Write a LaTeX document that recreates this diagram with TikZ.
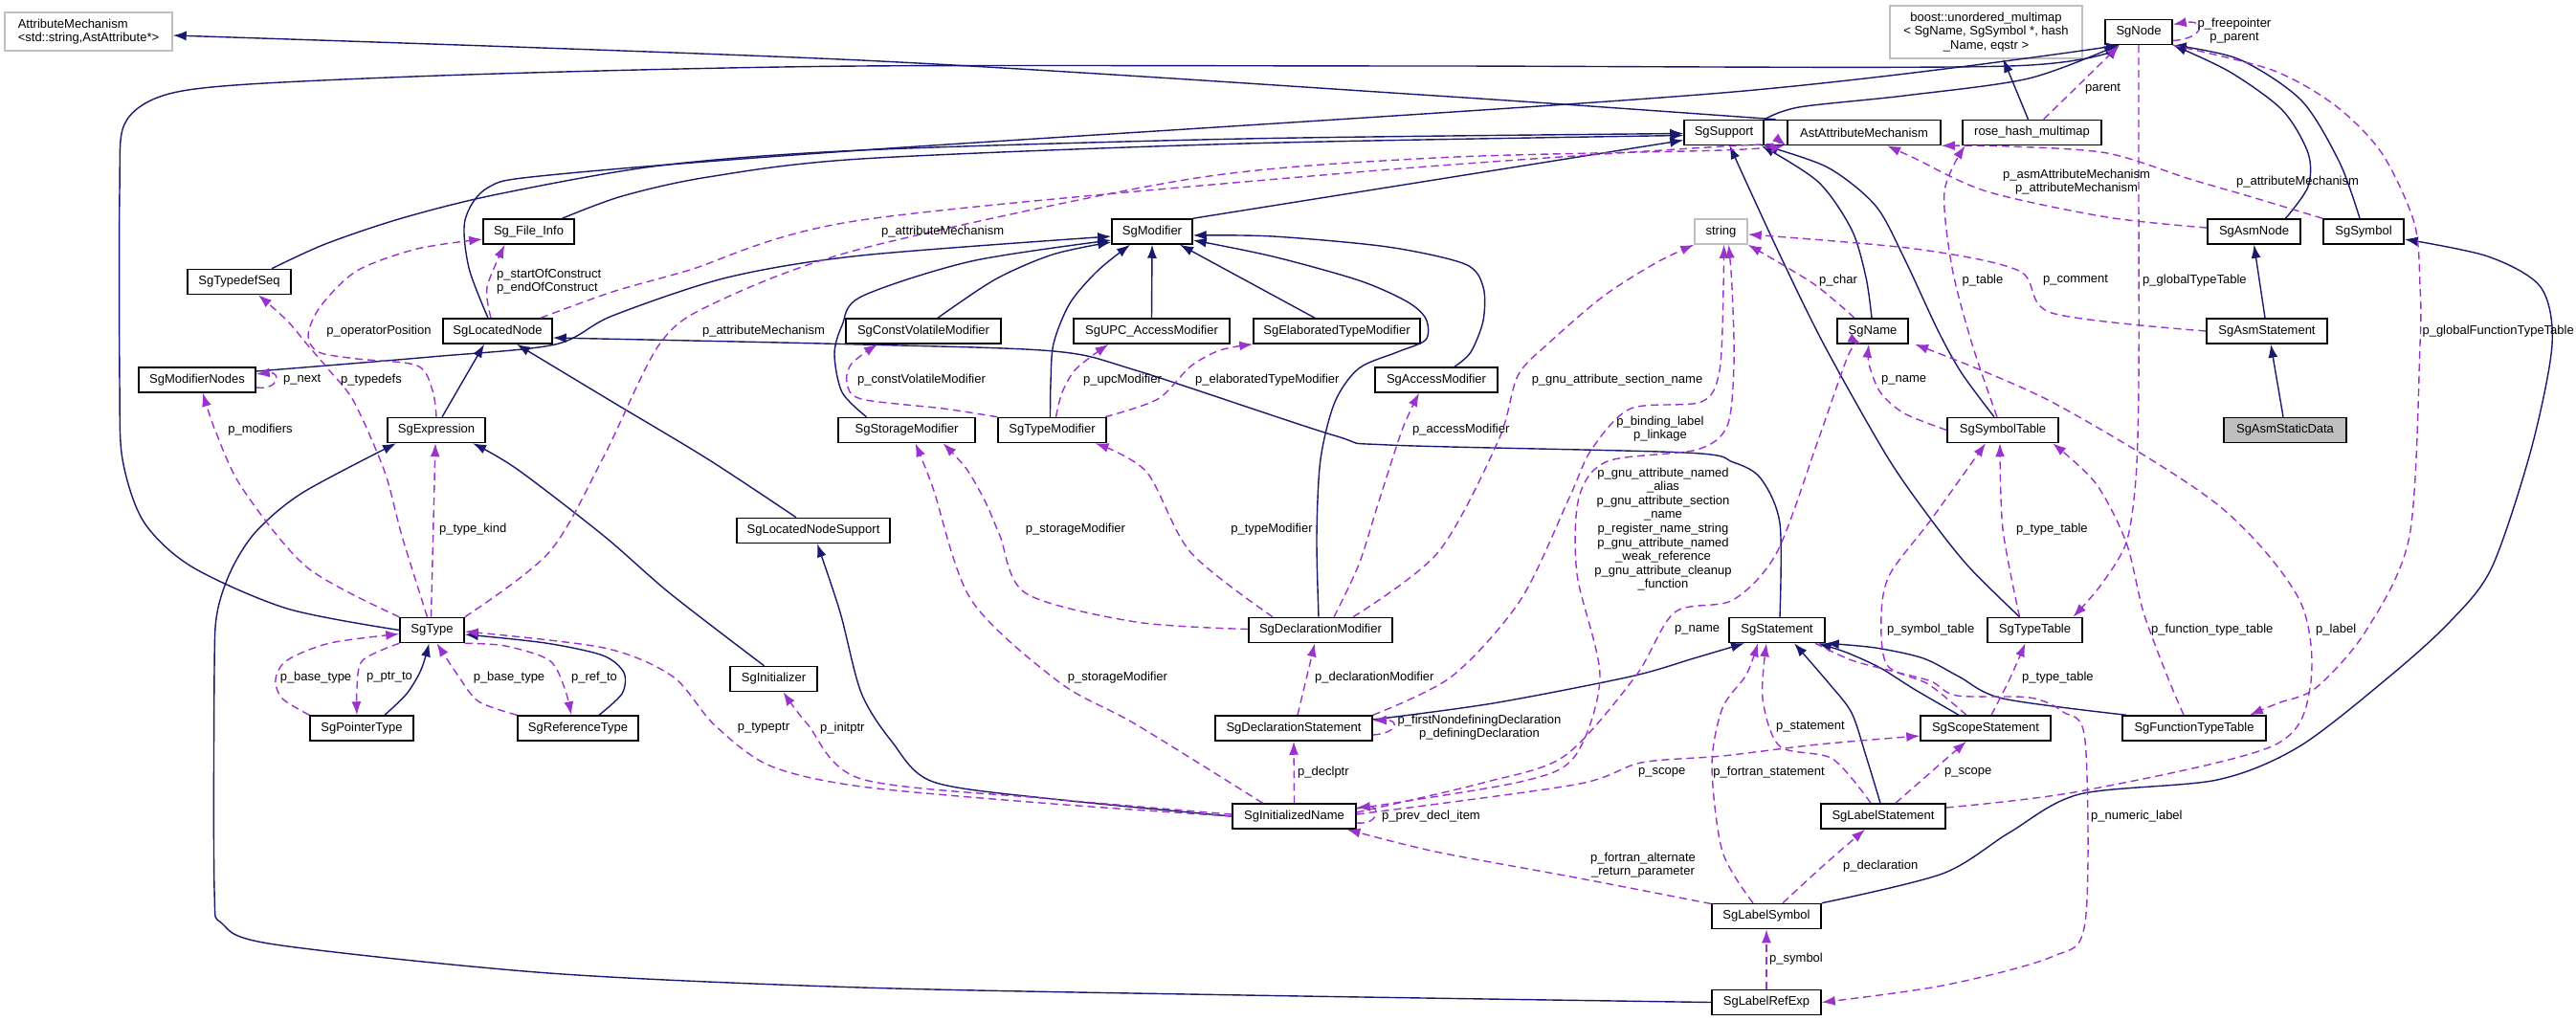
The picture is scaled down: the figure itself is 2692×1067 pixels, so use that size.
\documentclass[tikz,border=0pt]{standalone}
\usepackage{fontspec}
\setmainfont{Liberation Sans}
\usetikzlibrary{arrows.meta}
\definecolor{navy}{RGB}{25,25,112}
\definecolor{orchid}{RGB}{154,50,205}
\definecolor{lgray}{RGB}{191,191,191}
\newcommand{\lbfont}{\fontsize{13}{14.6}\selectfont}
\tikzset{
 box/.style={draw=black, line width=1.5pt, fill=white, minimum height=26pt, inner sep=0pt, font=\lbfont},
 gbox/.style={box, draw=lgray},
 inh/.style={draw=navy, line width=1.4pt, -{Latex[length=14pt,width=10pt]}},
 col/.style={draw=orchid, line width=1.4pt, dash pattern=on 8pt off 5pt, -{Latex[length=14pt,width=10pt]}},
 lb/.style={font=\lbfont, inner sep=0pt, align=center},
}
\begin{document}
\begin{tikzpicture}[x=1pt,y=-1pt]
\useasboundingbox (0,0) rectangle (2692,1067);
\fill[white] (0,0) rectangle (2692,1067);
% ---------------- nodes
\node[gbox, minimum width=175pt, minimum height=40pt, align=left] (AttrMech) at (92.5,33) {AttributeMechanism\\<std::string,AstAttribute*>};
\node[gbox, minimum width=201pt, minimum height=55pt, align=center] (boost) at (2075.5,33.5) {boost::unordered\_multimap\\< SgName, SgSymbol *, hash\\\_Name, eqstr >};
\node[box, minimum width=70pt] (SgNode) at (2235,33.5) {SgNode};
\node[box, minimum width=83pt] (SgSupport) at (1801.5,138.5) {SgSupport};
\node[box, minimum width=25pt] (blank) at (1855.5,138.5) {};
\node[box, minimum width=160pt] (AstAttr) at (1948,138.5) {AstAttributeMechanism};
\node[box, minimum width=145pt] (rose) at (2123.5,138.5) {rose\_hash\_multimap};
\node[box, minimum width=95pt] (FileInfo) at (552.5,242) {Sg\_File\_Info};
\node[box, minimum width=84pt] (SgModifier) at (1204,242) {SgModifier};
\node[gbox, minimum width=55pt] (string) at (1798.5,242) {string};
\node[box, minimum width=97pt] (SgAsmNode) at (2355.5,242) {SgAsmNode};
\node[box, minimum width=84pt] (SgSymbol) at (2470,242) {SgSymbol};
\node[box, minimum width=108pt] (Typedef) at (250,294.5) {SgTypedefSeq};
\node[box, minimum width=114pt] (Located) at (520,346) {SgLocatedNode};
\node[box, minimum width=162pt] (ConstVol) at (965,346) {SgConstVolatileModifier};
\node[box, minimum width=163pt] (UPC) at (1203.5,346) {SgUPC\_AccessModifier};
\node[box, minimum width=174pt] (Elab) at (1397,346) {SgElaboratedTypeModifier};
\node[box, minimum width=74pt] (SgName) at (1957,346) {SgName};
\node[box, minimum width=126pt] (AsmStmt) at (2369,346) {SgAsmStatement};
\node[box, minimum width=122pt] (ModNodes) at (206,397) {SgModifierNodes};
\node[box, minimum width=128pt] (AccessMod) at (1501,397) {SgAccessModifier};
\node[box, minimum width=102pt] (Expr) at (456,449.5) {SgExpression};
\node[box, minimum width=143pt] (StorMod) at (947.5,449.5) {SgStorageModifier};
\node[box, minimum width=113pt] (TypeMod) at (1099.5,449.5) {SgTypeModifier};
\node[box, minimum width=116pt] (SymTab) at (2093,449.5) {SgSymbolTable};
\node[box, minimum width=128pt, fill=lgray] (AsmStatic) at (2388,449.5) {SgAsmStaticData};
\node[box, minimum width=160pt] (LNSupport) at (850,554.5) {SgLocatedNodeSupport};
\node[box, minimum width=67pt] (SgType) at (451.5,658.5) {SgType};
\node[box, minimum width=150pt] (DeclMod) at (1380,658.5) {SgDeclarationModifier};
\node[box, minimum width=100pt] (Stmt) at (1857,658.5) {SgStatement};
\node[box, minimum width=99pt] (TypeTab) at (2126.5,658.5) {SgTypeTable};
\node[box, minimum width=91pt] (Init) at (808.5,709.5) {SgInitializer};
\node[box, minimum width=108pt] (PtrType) at (378,761) {SgPointerType};
\node[box, minimum width=126pt] (RefType) at (604,761) {SgReferenceType};
\node[box, minimum width=164pt] (DeclStmt) at (1352,761) {SgDeclarationStatement};
\node[box, minimum width=136pt] (ScopeStmt) at (2075,761) {SgScopeStatement};
\node[box, minimum width=150pt] (FuncTab) at (2293,761) {SgFunctionTypeTable};
\node[box, minimum width=129pt] (InitName) at (1352.5,853) {SgInitializedName};
\node[box, minimum width=130pt] (LabelStmt) at (1968,853) {SgLabelStatement};
\node[box, minimum width=114pt] (LabelSym) at (1846,957.5) {SgLabelSymbol};
\node[box, minimum width=114pt] (LabelRef) at (1846,1047.5) {SgLabelRefExp};
% ---------------- inheritance
\draw[inh] plot[smooth] coordinates {(SgSupport.north east) (1880,112) (1990,100) (2120,82) ([xshift=-22]SgNode.south)};
\draw[inh] plot[smooth] coordinates {(blank.north) (1500,100) (900,63) ([yshift=-4]AttrMech.east)};
\draw[inh] plot[smooth,tension=.5] coordinates {(SgType.west) (300,636) (200,592) (150,545) (128,480) (125,400) (125,200) (130,130) (170,100) (260,88) (520,77) (900,69) (1500,69) (2100,69) ([xshift=-22]SgNode.south)};
\draw[inh] plot[smooth,tension=.5] coordinates {([xshift=-10]Located.north) (490,280) (486,230) (510,196) (574,183) (900,157) (1800,97) ([xshift=-20]SgNode.south)};
\draw[inh] plot[smooth] coordinates {([xshift=33]SgAsmNode.north) (2412,195) (2412,160) (2385,115) (2330,75) ([xshift=36]SgNode.south)};
\draw[inh] plot[smooth] coordinates {([xshift=-4]SgSymbol.north) (2445,170) (2405,105) (2340,62) (SgNode.south east)};
\draw[inh] ([xshift=-4]rose.north) -- ([xshift=18]boost.south);
\draw[inh] plot[smooth] coordinates {([xshift=35]FileInfo.north) (650,205) (740,185) (900,166) (1300,150) ([yshift=-3]SgSupport.west)};
\draw[inh] plot[smooth] coordinates {([xshift=34]Typedef.north) (340,255) (420,228) (520,203) (690,173) (900,157) (1300,145) ([yshift=-1]SgSupport.west)};
\draw[inh] (SgModifier.north east) -- ([yshift=-8]SgSupport.west);
\draw[inh] plot[smooth] coordinates {([xshift=-1]SgName.north) (1950,290) (1935,240) (1900,190) ([xshift=-3]SgSupport.south east)};
\draw[inh] plot[smooth] coordinates {([xshift=-9]SymTab.north) (2050,390) (2025,345) (1990,270) (1960,215) (1910,175) (SgSupport.south east)};
\draw[inh] plot[smooth] coordinates {([xshift=-16]TypeTab.north) (2058,593) (2018,543) (1972,477) (1906,360) (1857,260) ([xshift=6]SgSupport.south)};
\draw[inh] ([xshift=-2]AsmStmt.north) -- (SgAsmNode.south);
\draw[inh] ([xshift=-2]AsmStatic.north) -- ([xshift=4]AsmStmt.south);
\draw[inh] plot[smooth] coordinates {([yshift=9]ModNodes.east) (450,373) (580,360) (640,330) (760,290) (900,267) ([yshift=-5]SgModifier.west)};
\draw[inh] plot[smooth] coordinates {([xshift=-42]StorMod.north) (880,410) (872,370) (880,340) (900,310) (1015,273) ([yshift=-9]SgModifier.west)};
\draw[inh] plot[smooth] coordinates {([xshift=15]ConstVol.north) (1040,292) (1100,266) ([yshift=-11]SgModifier.west)};
\draw[inh] plot[smooth] coordinates {([xshift=-2]TypeMod.north) (1098,400) (1101,359) (1118,317) (1147,283) ([xshift=-23]SgModifier.south)};
\draw[inh] (UPC.north) -- (SgModifier.south);
\draw[inh] ([xshift=-23]Elab.north) -- ([xshift=29]SgModifier.south);
\draw[inh] plot[smooth] coordinates {([xshift=-2]DeclMod.north) (1376,560) (1380,480) (1395,420) (1420,385) (1460,368) (1490,355) (1490,333) (1470,315) (1420,293) (1330,268) ([yshift=-9]SgModifier.east)};
\draw[inh] plot[smooth] coordinates {([xshift=19]AccessMod.north) (1537,368) (1550,335) (1550,300) (1531,276) (1450,258) (1330,247) ([yshift=-4]SgModifier.east)};
\draw[inh] ([xshift=6]Expr.north) -- ([xshift=-14]Located.south);
\draw[inh] plot[smooth] coordinates {([xshift=-18]LNSupport.north) (740,480) (640,420) ([xshift=20]Located.south)};
\draw[inh] plot[smooth,tension=.5] coordinates {([xshift=3]Stmt.north) (1860,547) (1840,500) (1811,483) (1761,473) (1451,465) (1394,455) (1187,387) (1101,367) (900,360) ([yshift=-7]Located.east)};
\draw[inh] plot[smooth] coordinates {([xshift=-10]Init.north) (700,620) (631,560) (540,490) ([xshift=38]Expr.south)};
\draw[inh] plot[smooth,tension=.5] coordinates {(LabelRef.west) (1300,1040) (900,1032) (574,1017) (287,987) (232,965) (224,930) (224,700) (227,640) (242,595) (268,555) (316,515) ([xshift=-42]Expr.south)};
\draw[inh] plot[smooth] coordinates {([xshift=24]PtrType.north) (425,725) (440,700) ([xshift=-3]SgType.south)};
\draw[inh] plot[smooth] coordinates {([xshift=22]RefType.north) (650,725) (652,703) (630,685) (570,672) ([yshift=-4.5]SgType.east)};
\draw[inh] plot[smooth] coordinates {(InitName.west) (1100,835) (975,817) (932,775) (900,724) (878,640) ([xshift=4]LNSupport.south)};
\draw[inh] plot[smooth] coordinates {([yshift=9]DeclStmt.east) (1560,735) (1704,707) (1770,688) ([xshift=-34]Stmt.south)};
\draw[inh] plot[smooth] coordinates {([xshift=-28]ScopeStmt.north) (2000,720) (1965,698) (1930,682) ([xshift=-8]Stmt.south east)};
\draw[inh] plot[smooth] coordinates {([xshift=-3]LabelStmt.north) (1950,790) (1935,745) (1912,715) ([xshift=18]Stmt.south)};
\draw[inh] plot[smooth] coordinates {([xshift=-71]FuncTab.north) (2093,730) (2047,707) (2010,688) (1960,677) (Stmt.south east)};
\draw[inh] plot[smooth,tension=.5] coordinates {(LabelSym.north east) (2030,913) (2100,870) (2173,830) (2317,815) (2403,780) (2497,707) (2560,650) (2604,593) (2645,470) (2667,360) (2655,300) (2600,268) ([yshift=-8]SgSymbol.east)};
% ---------------- collaboration
\draw[col] plot[smooth] coordinates {([xshift=-7]Located.north) (509,300) ([xshift=-25]FileInfo.south)};
\draw[col] plot[smooth] coordinates {(Expr.north) (452,408) (436,382) (373,375) (333,368) (322,350) (335,320) (373,283) (436,260) ([yshift=-8]FileInfo.west)};
\draw[col] plot[smooth] coordinates {([xshift=-5]SgType.north) (420,560) (402,493) (370,420) (345,388) (321,360) (300,335) ([xshift=20]Typedef.south)};
\draw[col] plot[smooth] coordinates {(SgType.north west) (321,593) (253,510) (225,450) ([xshift=6]ModNodes.south)};
\draw[col] ([yshift=-8]ModNodes.east) .. controls (292,408) and (294,388) .. ([yshift=6]ModNodes.east);
\draw[col] ([xshift=-1]SgType.north) -- ([xshift=-1]Expr.south);
\draw[col] plot[smooth,tension=.5] coordinates {(SgType.north east) (574,577) (631,477) (689,360) (746,317) (900,260) (1244,187) (1500,165) (1800,157) ([xshift=-3]AstAttr.south west)};
\draw[col] plot[smooth,tension=.5] coordinates {([xshift=45]Located.north) (640,305) (718,283) (900,230) (1417,180) (1800,153) ([xshift=-1]AstAttr.south west)};
\draw[col] plot[smooth] coordinates {([yshift=4]SgAsmNode.west) (2202,227) (2076,200) (2000,165) ([xshift=24]AstAttr.south)};
\draw[col] plot[smooth] coordinates {(SgSymbol.north west) (2350,205) (2288,187) (2202,160) (2100,153) (AstAttr.south east)};
\draw[col] plot[smooth] coordinates {([xshift=-19]SgName.north) (1900,300) (1860,275) (string.south east)};
\draw[col] plot[smooth] coordinates {(AsmStmt.west) (2144,327) (2110,283) (2001,260) ([yshift=-3]string.east)};
\draw[col] plot[smooth] coordinates {([xshift=-6]SymTab.north) (2061,360) (2040,280) (2032,200) ([xshift=-70]rose.south)};
\draw[col] ([xshift=12]rose.north) -- ([xshift=-20]SgNode.south);
\draw[col] ([yshift=-9]SgNode.east) .. controls (2305,40) and (2305,20) .. ([yshift=8]SgNode.east);
\draw[col] plot[smooth,tension=.5] coordinates {(SgNode.south) (2235,200) (2235,400) (2232,500) (2222,567) (2195,612) ([xshift=40]TypeTab.north)};
\draw[col] plot[smooth,tension=.5] coordinates {(SgNode.south east) (2374,73) (2440,110) (2489,160) (2523,233) (2529,300) (2529,360) (2518,560) (2472,660) (2420,719) (2380,735) ([xshift=58]FuncTab.north)};
\draw[col] plot[smooth] coordinates {(SymTab.west) (1990,432) (1965,410) (1953,380) ([xshift=-4]SgName.south)};
\draw[col] plot[smooth,tension=.5] coordinates {([yshift=4]InitName.east) (1550,818) (1635,790) (1709,707) (1750,640) (1811,627) (1857,577) (1900,460) (1932,370) ([xshift=-12]SgName.south)};
\draw[col] plot[smooth] coordinates {([xshift=-16]TypeTab.north) (2093,553) ([xshift=-3]SymTab.south)};
\draw[col] plot[smooth] coordinates {([xshift=-11]FuncTab.north) (2265,707) (2240,640) (2222,567) (2190,505) ([xshift=52]SymTab.south)};
\draw[col] plot[smooth] coordinates {([xshift=-20]ScopeStmt.north) (2015,715) (1972,695) (1966,643) (1975,600) (2018,543) ([xshift=-18]SymTab.south)};
\draw[col] plot[smooth] coordinates {([xshift=6]ScopeStmt.north) (2100,710) ([xshift=-10]TypeTab.south)};
\draw[col] plot[smooth,tension=.5] coordinates {([yshift=9]LabelStmt.east) (2173,827) (2374,780) (2414,719) (2403,627) (2317,527) (2144,420) ([xshift=44]SgName.south)};
\draw[col] plot[smooth] coordinates {([xshift=-13]LabelStmt.north) (1915,793) (1860,780) (1842,730) ([xshift=-11]Stmt.south)};
\draw[col] plot[smooth] coordinates {([xshift=-14]LabelSym.north) (1800,890) (1789,800) (1800,740) (1825,705) ([xshift=-20]Stmt.south)};
\draw[col] plot[smooth] coordinates {([xshift=13]LabelStmt.north) (2020,805) ([xshift=-20]ScopeStmt.south)};
\draw[col] plot[smooth] coordinates {([yshift=2]InitName.east) (1646,820) (1715,797) (1800,790) (1900,778) ([yshift=-8]ScopeStmt.west)};
\draw[col] plot[smooth] coordinates {([xshift=17]LabelSym.north) (1905,905) ([xshift=-19]LabelStmt.south)};
\draw[col] (LabelRef.north) -- (LabelSym.south);
\draw[col] plot[smooth,tension=.5] coordinates {([xshift=40]Stmt.south) (1935,690) (1980,702) (2018,712) (2045,727) (2121,729) (2156,744) (2179,774) (2179,964) (2144,1000) (2030,1030) (LabelRef.east)};
\draw[col] ([yshift=-7]InitName.east) .. controls (1442,862) and (1442,842) .. ([yshift=9]InitName.east);
\draw[col] ([yshift=-7]DeclStmt.east) .. controls (1462,766) and (1462,752) .. ([yshift=8]DeclStmt.east);
\draw[col] (InitName.north) -- (DeclStmt.south);
\draw[col] ([xshift=4]DeclStmt.north) -- ([xshift=-6]DeclMod.south);
\draw[col] plot[smooth] coordinates {([yshift=1]DeclMod.west) (1187,650) (1072,620) (1045,560) (1030,525) (1010,490) ([xshift=38]StorMod.south)};
\draw[col] plot[smooth] coordinates {([xshift=-50]DeclMod.north) (1244,577) (1198,493) ([xshift=45]TypeMod.south)};
\draw[col] plot[smooth] coordinates {([xshift=14]DeclMod.north) (1420,590) (1440,527) (1465,450) ([xshift=-18]AccessMod.south)};
\draw[col] plot[smooth] coordinates {([xshift=34]DeclMod.north) (1503,577) (1566,460) (1586,393) (1618,359) (1675,310) (1730,275) (string.south west)};
\draw[col] plot[smooth] coordinates {(DeclStmt.north east) (1517,707) (1589,627) (1640,520) (1663,470) (1704,427) (1778,420) (1797,387) (1801,300) ([xshift=3]string.south)};
\draw[col] plot[smooth] coordinates {([yshift=8]InitName.east) (1589,817) (1646,790) (1672,707) (1648,600) (1650,520) (1680,482) (1773,470) (1805,445) (1812,380) (1810,300) ([xshift=8]string.south)};
\draw[col] plot[smooth] coordinates {([xshift=-33]InitName.north) (1187,757) (1107,713) (1015,627) (975,510) ([xshift=9]StorMod.south)};
\draw[col] plot[smooth] coordinates {([yshift=2]InitName.west) (1100,835) (900,814) (844,757) ([xshift=10]Init.south)};
\draw[col] plot[smooth] coordinates {([yshift=0]InitName.west) (1100,840) (900,822) (804,800) (746,757) (703,707) (631,677) ([yshift=-1.5]SgType.east)};
\draw[col] plot[smooth] coordinates {(PtrType.north west) (295,730) (288,710) (300,690) (345,672) ([yshift=-4]SgType.west)};
\draw[col] plot[smooth] coordinates {(SgType.south west) (379,690) (373,719) ([xshift=-5]PtrType.north)};
\draw[col] plot[smooth] coordinates {(RefType.north west) (500,733) (478,705) ([xshift=5]SgType.south)};
\draw[col] plot[smooth] coordinates {(SgType.south east) (528,675) (574,690) (590,719) ([xshift=-7]RefType.north)};
\draw[col] plot[smooth] coordinates {([yshift=13]LabelSym.west) (1646,917) (1500,890) ([xshift=55]InitName.south)};
\draw[col] plot[smooth] coordinates {(TypeMod.north west) (986,427) (900,417) (885,400) (890,380) ([xshift=-48]ConstVol.south)};
\draw[col] plot[smooth] coordinates {([xshift=4]TypeMod.north) (1110,410) (1125,385) ([xshift=-45]UPC.south)};
\draw[col] plot[smooth] coordinates {([xshift=-2]TypeMod.north east) (1210,417) (1244,383) (1275,366) (Elab.south west)};
% ---------------- labels
\node[lb, anchor=west, align=left] (l1) at (519,294) {p\_startOfConstruct\\p\_endOfConstruct};
\node[lb] (l2) at (396,346) {p\_operatorPosition};
\node[lb] (l3) at (388,397) {p\_typedefs};
\node[lb] (l4) at (272,449) {p\_modifiers};
\node[lb, anchor=west] (l5) at (296,397) {p\_next};
\node[lb, anchor=west] (l6) at (459,553) {p\_type\_kind};
\node[lb] (l7) at (798,346) {p\_attributeMechanism};
\node[lb, anchor=west] (l8) at (921,242) {p\_attributeMechanism};
\node[lb] (l9) at (2170,190) {p\_asmAttributeMechanism\\p\_attributeMechanism};
\node[lb] (l10) at (2401,190) {p\_attributeMechanism};
\node[lb] (l11) at (1921,293) {p\_char};
\node[lb] (l12) at (2169,293) {p\_comment};
\node[lb] (l13) at (2072,293) {p\_table};
\node[lb, anchor=west] (l14) at (2179,93) {parent};
\node[lb] (l15) at (2335,32) {p\_freepointer\\p\_parent};
\node[lb, anchor=west] (l16) at (2239,293) {p\_globalTypeTable};
\node[lb, anchor=east] (l17) at (2690,346) {p\_globalFunctionTypeTable};
\node[lb, anchor=west] (l18) at (1966,397) {p\_name};
\node[lb, anchor=west] (l19) at (1750,658) {p\_name};
\node[lb, anchor=west] (l20) at (2107,553) {p\_type\_table};
\node[lb, anchor=west] (l21) at (2248,658) {p\_function\_type\_table};
\node[lb, anchor=west] (l22) at (1972,658) {p\_symbol\_table};
\node[lb, anchor=west] (l23) at (2113,708) {p\_type\_table};
\node[lb, anchor=west] (l24) at (2420,658) {p\_label};
\node[lb, anchor=west] (l25) at (1856,760) {p\_statement};
\node[lb, anchor=east] (l26) at (1907,807) {p\_fortran\_statement};
\node[lb, anchor=west] (l27) at (2032,807) {p\_scope};
\node[lb, anchor=west] (l28) at (1712,807) {p\_scope};
\node[lb, anchor=west] (l29) at (1926,905) {p\_declaration};
\node[lb, anchor=west] (l30) at (1849,1002) {p\_symbol};
\node[lb, anchor=west] (l31) at (2185,853) {p\_numeric\_label};
\node[lb, anchor=west] (l32) at (1444,853) {p\_prev\_decl\_item};
\node[lb] (l33) at (1546,760) {p\_firstNondefiningDeclaration\\p\_definingDeclaration};
\node[lb, anchor=west] (l34) at (1356,807) {p\_declptr};
\node[lb, anchor=west] (l35) at (1374,708) {p\_declarationModifier};
\node[lb] (l36) at (1124,553) {p\_storageModifier};
\node[lb] (l37) at (1329,553) {p\_typeModifier};
\node[lb, anchor=west] (l38) at (1476,449) {p\_accessModifier};
\node[lb] (l39) at (1690,397) {p\_gnu\_attribute\_section\_name};
\node[lb] (l40) at (1735,448) {p\_binding\_label\\p\_linkage};
\node[lb] (l41) at (1738,553) {p\_gnu\_attribute\_named\\\_alias\\p\_gnu\_attribute\_section\\\_name\\p\_register\_name\_string\\p\_gnu\_attribute\_named\\\_weak\_reference\\p\_gnu\_attribute\_cleanup\\\_function};
\node[lb] (l42) at (1168,708) {p\_storageModifier};
\node[lb, anchor=west] (l43) at (857,761) {p\_initptr};
\node[lb] (l44) at (798,761) {p\_typeptr};
\node[lb] (l45) at (330,708) {p\_base\_type};
\node[lb, anchor=west] (l46) at (383,708) {p\_ptr\_to};
\node[lb] (l47) at (532,708) {p\_base\_type};
\node[lb, anchor=west] (l48) at (597,708) {p\_ref\_to};
\node[lb] (l49) at (1717,904) {p\_fortran\_alternate\\\_return\_parameter};
\node[lb, anchor=west] (l50) at (896,397) {p\_constVolatileModifier};
\node[lb, anchor=west] (l51) at (1132,397) {p\_upcModifier};
\node[lb, anchor=west] (l52) at (1249,397) {p\_elaboratedTypeModifier};
\end{tikzpicture}
\end{document}
